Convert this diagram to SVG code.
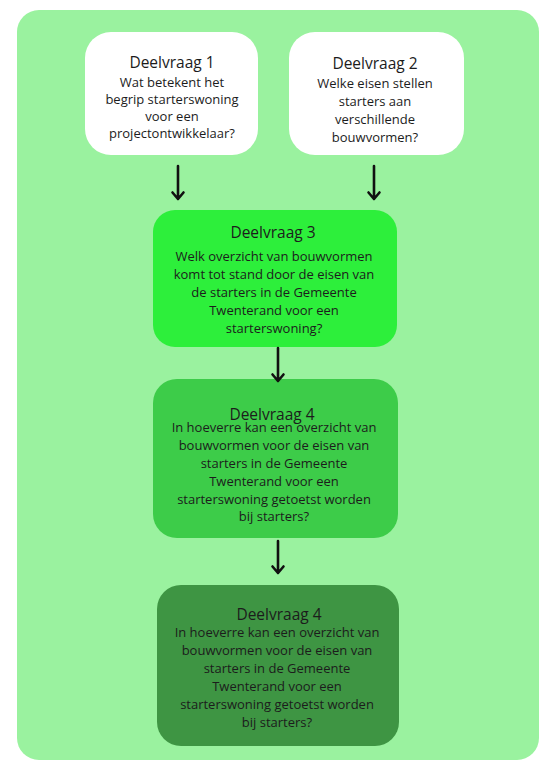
<svg xmlns="http://www.w3.org/2000/svg" width="541" height="762" viewBox="0 0 541 762">
<style>
  .title { font-family: "Open Sans", "Noto Sans", sans-serif; font-size: 15.5px; fill: #1c1c1c; text-anchor: middle; }
  .body { font-family: "Open Sans", "Noto Sans", sans-serif; font-size: 13px; fill: #1c1c1c; text-anchor: middle; }
  .conn { stroke: #111; stroke-width: 2.6; fill: none; stroke-linecap: round; stroke-linejoin: round; }
</style>
<rect x="0" y="0" width="541" height="762" fill="#ffffff"/>
<rect id="background" x="17" y="10" width="522" height="750" rx="22" ry="22" fill="#9af29f"/>

<g id="node-deelvraag1">
  <rect x="85" y="32" width="173" height="123" rx="26" ry="26" fill="#ffffff"/>
  <text class="title" x="172" y="68">Deelvraag 1</text>
  <text class="body" x="172" y="87">Wat betekent het</text>
  <text class="body" x="172" y="104">begrip starterswoning</text>
  <text class="body" x="172" y="121">voor een</text>
  <text class="body" x="172" y="138">projectontwikkelaar?</text>
</g>

<g id="node-deelvraag2">
  <rect x="289" y="32" width="175" height="123" rx="26" ry="26" fill="#ffffff"/>
  <text class="title" x="375" y="69">Deelvraag 2</text>
  <text class="body" x="375" y="88">Welke eisen stellen</text>
  <text class="body" x="375" y="106">starters aan</text>
  <text class="body" x="375" y="124">verschillende</text>
  <text class="body" x="375" y="142">bouwvormen?</text>
</g>

<g id="node-deelvraag3">
  <rect x="153" y="210" width="244" height="137" rx="22" ry="22" fill="#2def3b"/>
  <text class="title" x="273" y="238">Deelvraag 3</text>
  <text class="body" x="274" y="261">Welk overzicht van bouwvormen</text>
  <text class="body" x="274" y="279">komt tot stand door de eisen van</text>
  <text class="body" x="274" y="297">de starters in de Gemeente</text>
  <text class="body" x="274" y="315">Twenterand voor een</text>
  <text class="body" x="274" y="333">starterswoning?</text>
</g>

<g id="node-deelvraag4a">
  <rect x="153" y="379" width="245" height="159" rx="24" ry="24" fill="#3dcc49"/>
  <text class="title" x="272" y="420">Deelvraag 4</text>
  <text class="body" x="274" y="432">In hoeverre kan een overzicht van</text>
  <text class="body" x="274" y="450">bouwvormen voor de eisen van</text>
  <text class="body" x="274" y="468">starters in de Gemeente</text>
  <text class="body" x="274" y="486">Twenterand voor een</text>
  <text class="body" x="274" y="504">starterswoning getoetst worden</text>
  <text class="body" x="274" y="521">bij starters?</text>
</g>

<g id="node-deelvraag4b">
  <rect x="157" y="585" width="242" height="161" rx="24" ry="24" fill="#3e9543"/>
  <text class="title" x="279" y="620">Deelvraag 4</text>
  <text class="body" x="277" y="637">In hoeverre kan een overzicht van</text>
  <text class="body" x="277" y="655">bouwvormen voor de eisen van</text>
  <text class="body" x="277" y="673">starters in de Gemeente</text>
  <text class="body" x="277" y="691">Twenterand voor een</text>
  <text class="body" x="277" y="709">starterswoning getoetst worden</text>
  <text class="body" x="277" y="727">bij starters?</text>
</g>

<g id="connectors">
  <path class="conn" d="M178 166 V199 M172.5 192.5 L178 199 L183.5 192.5"/>
  <path class="conn" d="M374 166 V199 M368.5 192.5 L374 199 L379.5 192.5"/>
  <path class="conn" d="M278 348 V381 M272.5 374.5 L278 381 L283.5 374.5"/>
  <path class="conn" d="M278 541 V573 M272.5 566.5 L278 573 L283.5 566.5"/>
</g>
</svg>
